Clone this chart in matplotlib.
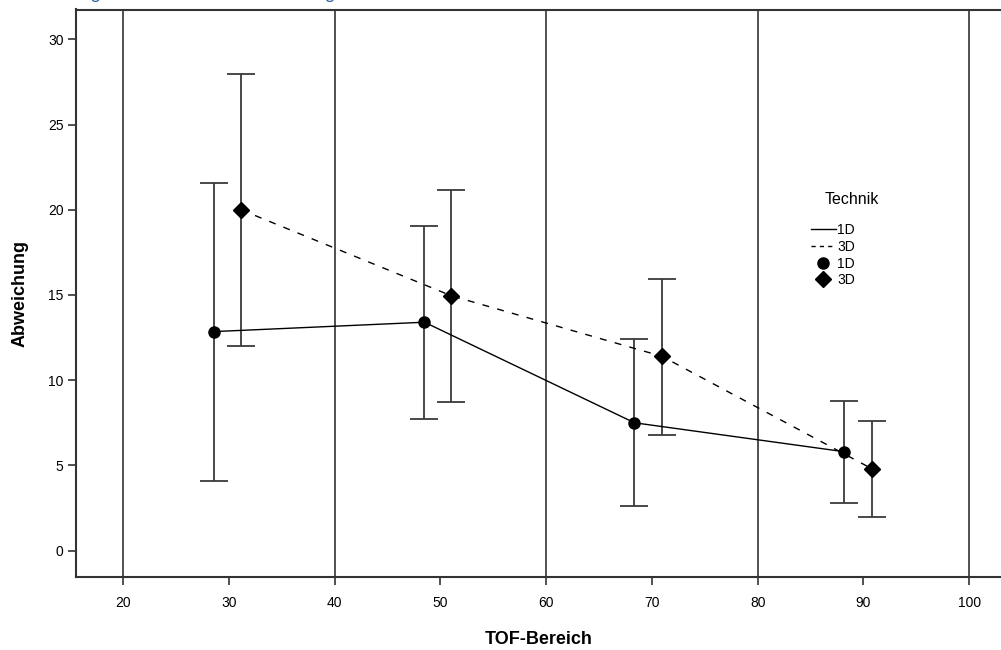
import matplotlib
matplotlib.use("Agg")
import matplotlib.pyplot as plt
from matplotlib.lines import Line2D

plt.rcParams['font.family'] = ['Liberation Sans', 'DejaVu Sans']

# values
tof_1d = [28.6, 48.5, 68.35, 88.2]
tof_3d = [31.15, 51.05, 70.95, 90.8]
mean_1d = [12.85, 13.4, 7.5, 5.8]
mean_3d = [20.0, 14.95, 11.4, 4.8]
low_1d = [4.1, 7.7, 2.6, 2.8]
high_1d = [21.55, 19.05, 12.4, 8.75]
low_3d = [12.0, 8.7, 6.8, 2.0]
high_3d = [27.95, 21.15, 15.95, 7.6]

x_ticks = [20, 30, 40, 50, 60, 70, 80, 90, 100]
grid_x = [20, 40, 60, 80, 100]
y_ticks = [0, 5, 10, 15, 20, 25, 30]
caption = "Abbildung 3: Mittelwerte der Abweichung"

fig = plt.figure(figsize=(10.01, 6.5), dpi=100)
ax = fig.add_axes([76 / 1001, 73 / 650, 925 / 1001, 567.5 / 650])

for v in grid_x:
    ax.axvline(v, color='#222222', lw=1.1, zorder=1)

err_1d = [[m - l for m, l in zip(mean_1d, low_1d)], [h - m for m, h in zip(mean_1d, high_1d)]]
err_3d = [[m - l for m, l in zip(mean_3d, low_3d)], [h - m for m, h in zip(mean_3d, high_3d)]]

ax.errorbar(tof_1d, mean_1d, yerr=err_1d, fmt='none', ecolor='#3a3a3a', elinewidth=1.3,
            capsize=10, capthick=1.3, zorder=2)
ax.errorbar(tof_3d, mean_3d, yerr=err_3d, fmt='none', ecolor='#3a3a3a', elinewidth=1.3,
            capsize=10, capthick=1.3, zorder=2)

ax.plot(tof_1d, mean_1d, color='black', lw=1.0, zorder=3)
ax.plot(tof_3d, mean_3d, color='black', lw=1.0, dashes=(5, 6), zorder=3)
ax.plot(tof_1d, mean_1d, 'o', color='black', markersize=8, zorder=4)
ax.plot(tof_3d, mean_3d, 'D', color='black', markersize=7.8, zorder=4)

ax.set_xlim(15.56, 103.0)
ax.set_ylim(-1.55, 31.75)
ax.set_xticks(x_ticks)
ax.set_yticks(y_ticks)
ax.tick_params(direction='out', length=6, width=1.2, color='#333333', labelsize=10)
ax.tick_params(axis='x', pad=8)
ax.tick_params(axis='y', pad=3)

for s in ['left', 'bottom', 'top']:
    ax.spines[s].set_linewidth(1.5)
    ax.spines[s].set_color('#333333')
ax.spines['right'].set_visible(False)

ax.set_xlabel('TOF-Bereich', fontsize=13, fontweight='bold', labelpad=15)
ax.set_ylabel('Abweichung', fontsize=13, fontweight='bold', labelpad=14)

handles = [
    Line2D([], [], color='black', lw=1.0),
    Line2D([], [], color='black', lw=1.0, dashes=(3, 3)),
    Line2D([], [], marker='o', color='black', ls='none', markersize=8),
    Line2D([], [], marker='D', color='black', ls='none', markersize=7.8),
]
ax.legend(handles, ['1D', '3D', '1D', '3D'], frameon=False,
          loc='upper left', bbox_to_anchor=(804 / 1001, 1 - 216 / 650),
          bbox_transform=fig.transFigure, fontsize=10,
          handlelength=1.8, handletextpad=0.1, labelspacing=0.2, borderpad=0)
fig.text(852 / 1001, 1 - 200 / 650, 'Technik', fontsize=11.5, ha='center', va='center')

fig.text(25 / 1001, 1.0 + 1 / 650, caption, color='#2a5699', fontsize=12.1,
         family=['Lato', 'DejaVu Sans'], va='baseline', ha='left')

fig.savefig('out.png', dpi=100)
